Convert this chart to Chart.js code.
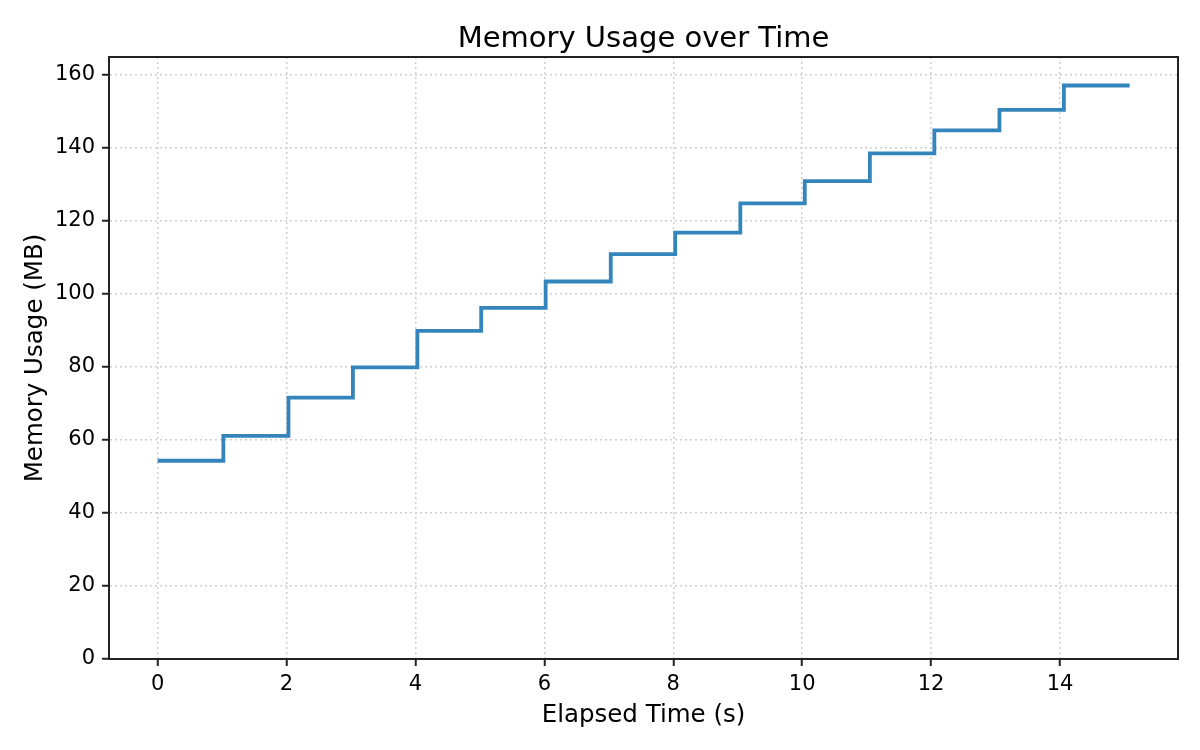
<!DOCTYPE html>
<html>
<head>
<meta charset="utf-8">
<script src="https://cdn.jsdelivr.net/npm/chart.js@4.4.1/dist/chart.umd.min.js"></script>
<style>
  html, body { margin: 0; padding: 0; background: #fff; }
  #wrap { width: 1200px; height: 750px; }
</style>
</head>
<body>
<div id="wrap"><canvas id="memChart" width="1200" height="750"></canvas></div>
<script>
// elapsed time (s) of each sample, memory reading (MB) held until the next sample
const times = [0, 1.02, 2.03, 3.03, 4.03, 5.02, 6.02, 7.03, 8.03, 9.04, 10.04, 11.05, 12.05, 13.06, 14.06, 15.08];
const memory = [54.3, 61.1, 71.6, 79.9, 89.9, 96.2, 103.4, 110.9, 116.8, 124.8, 130.9, 138.5, 144.8, 150.4, 157.1, 157.1];
const xTicks = [0, 2, 4, 6, 8, 10, 12, 14];
const yTicks = [0, 20, 40, 60, 80, 100, 120, 140, 160];
const chartTitle = 'Memory Usage over Time';

const FONT = "'DejaVu Sans', sans-serif";

// box around the plot area + title centred over the axes (not the canvas)
const frame = {
  id: 'frame',
  afterDraw(chart) {
    const { ctx, chartArea: a } = chart;
    ctx.save();
    ctx.strokeStyle = '#222';
    ctx.lineWidth = 2;
    ctx.strokeRect(a.left, a.top, a.right - a.left, a.bottom - a.top);
    ctx.fillStyle = '#000';
    ctx.font = '29px ' + FONT;
    ctx.textAlign = 'center';
    ctx.textBaseline = 'alphabetic';
    ctx.fillText(chartTitle, (a.left + a.right) / 2, 47);
    ctx.restore();
  }
};

const points = times.map((t, i) => ({ x: t, y: memory[i] }));

const ctx = document.getElementById('memChart').getContext('2d');
new Chart(ctx, {
  type: 'line',
  data: {
    datasets: [{
      label: 'Memory',
      data: points,
      stepped: 'before',
      borderColor: '#3585bd',
      borderWidth: 3.8,
      borderJoinStyle: 'miter',
      borderCapStyle: 'butt',
      pointRadius: 0,
      fill: false
    }]
  },
  options: {
    responsive: false,
    animation: false,
    layout: { padding: { left: 0, right: 22, top: 57, bottom: 0 } },
    plugins: {
      legend: { display: false },
      tooltip: { enabled: false },
      title: { display: false }
    },
    scales: {
      x: {
        type: 'linear',
        min: -0.754,
        max: 15.83,
        afterBuildTicks: s => { s.ticks = xTicks.map(v => ({ value: v })); },
        afterFit: s => { s.height = 91; },
        ticks: {
          color: '#000',
          font: { family: FONT, size: 21 },
          padding: 6,
          maxRotation: 0
        },
        grid: {
          color: '#cfcfcf',
          lineWidth: 1.5,
          drawTicks: true,
          tickLength: 7,
          tickColor: '#222',
          tickWidth: 2
        },
        border: { display: true, color: '#222', width: 2, dash: [2, 3] },
        title: {
          display: true,
          text: 'Elapsed Time (s)',
          color: '#000',
          font: { family: FONT, size: 24.5 },
          padding: { top: 0, bottom: 20 }
        }
      },
      y: {
        min: 0,
        max: 164.9,
        afterBuildTicks: s => { s.ticks = yTicks.map(v => ({ value: v })); },
        afterFit: s => { s.width = 109; },
        ticks: {
          color: '#000',
          font: { family: FONT, size: 21 },
          padding: 7
        },
        grid: {
          color: '#cfcfcf',
          lineWidth: 1.5,
          drawTicks: true,
          tickLength: 7,
          tickColor: '#222',
          tickWidth: 2
        },
        border: { display: true, color: '#222', width: 2, dash: [2, 3] },
        title: {
          display: true,
          text: 'Memory Usage (MB)',
          color: '#000',
          font: { family: FONT, size: 24.5 },
          padding: { top: 21, bottom: 0 }
        }
      }
    }
  },
  plugins: [frame]
});
</script>
</body>
</html>
